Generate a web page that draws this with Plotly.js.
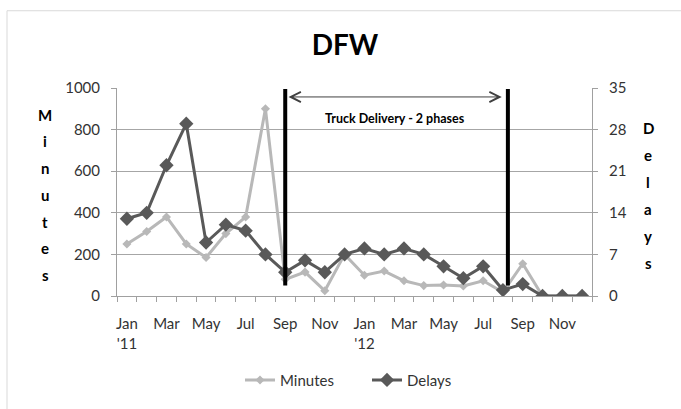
<!DOCTYPE html>
<html>
<head>
<meta charset="utf-8">
<script src="https://cdn.plot.ly/plotly-3.0.1.min.js"></script>
<style>html,body{margin:0;padding:0;background:#fff;}#chart{width:681px;height:409px;}</style>
</head>
<body>
<div id="chart"></div>
<script>
// ---- data ----
const months = ["Jan '11","Feb '11","Mar '11","Apr '11","May '11","Jun '11","Jul '11","Aug '11","Sep '11","Oct '11","Nov '11","Dec '11",
                "Jan '12","Feb '12","Mar '12","Apr '12","May '12","Jun '12","Jul '12","Aug '12","Sep '12","Oct '12","Nov '12","Dec '12"];
const tickLabels = ["Jan<br>'11","","Mar","","May","","Jul","","Sep","","Nov","",
                    "Jan<br>'12","","Mar","","May","","Jul","","Sep","","Nov",""];
const minutes = [250, 310, 380, 250, 185, 300, 380, 900, 80, 115, 25, 200,
                 100, 120, 73, 50, 53, 48, 73, 18, 155, 0, 0, 0];
const delays  = [13, 14, 22, 29, 9, 12, 11, 7, 4, 6, 4, 7,
                 8, 7, 8, 7, 5, 3, 5, 1, 2, 0, 0, 0];
const phaseLines = [8, 19.25];          // category index positions of the phase markers
const phaseLabel = "Truck Delivery - 2 phases";
const leftTitle = "Minutes";
const rightTitle = "Delays";

const FONT = "Lato, 'Open Sans', sans-serif";

const traces = [
  {name: "Minutes", x: months, y: minutes, type: "scatter", mode: "lines+markers",
   line: {color: "#b8b8b8", width: 3}, marker: {symbol: "diamond", size: 7, color: "#b8b8b8"}, yaxis: "y"},
  {name: "Delays", x: months, y: delays, type: "scatter", mode: "lines+markers",
   line: {color: "#595959", width: 3}, marker: {symbol: "diamond", size: 11, color: "#595959"}, yaxis: "y2"}
];

const shapes = phaseLines.map(p => ({type: "line", xref: "x", yref: "y", x0: p, x1: p, y0: 50, y1: 995,
  line: {color: "#000", width: 4}, layer: "above"}));
// outer chart-area border
shapes.push({type: "rect", xref: "paper", yref: "paper", x0: (7-117)/475, x1: 1.4, y0: -0.7, y1: (298-10)/210,
  line: {color: "#d9d9d9", width: 1}, layer: "below"});

const annotations = [
  {xref: "x", yref: "y", axref: "x", ayref: "y", x: 18.94, y: 957, ax: 8.09, ay: 957,
   showarrow: true, arrowhead: 5, startarrowhead: 5, arrowside: "end+start", arrowsize: 2, arrowwidth: 1,
   arrowcolor: "#404040", text: ""},
  {xref: "x", yref: "y", x: 13.55, y: 852, text: "<b>" + phaseLabel + "</b>", showarrow: false,
   xanchor: "center", yanchor: "middle", font: {family: FONT, size: 12.5, color: "#000"}}
];
leftTitle.split("").forEach((ch, i) => annotations.push({xref: "paper", yref: "paper",
  x: (45-117)/475, y: (298-115-27*i)/210, xanchor: "center", yanchor: "middle",
  text: "<b>" + ch + "</b>", showarrow: false,
  font: {family: FONT, size: 15, color: "#000"}}));
rightTitle.split("").forEach((ch, i) => annotations.push({xref: "paper", yref: "paper",
  x: (648-117)/475, y: (298-128-27.4*i)/210, xanchor: "center", yanchor: "middle",
  text: "<b>" + ch + "</b>", showarrow: false,
  font: {family: FONT, size: 15, color: "#000"}}));

const layout = {
  width: 681, height: 409,
  margin: {l: 117, r: 89, t: 88, b: 111, pad: 0},
  paper_bgcolor: "#fff", plot_bgcolor: "#fff",
  font: {family: FONT, size: 15, color: "#333"},
  title: {text: "<b>DFW</b>", font: {family: FONT, size: 28, color: "#000"},
          xref: "container", x: 345/681, xanchor: "center", yref: "container", y: 1-45/409, yanchor: "middle"},
  showlegend: true,
  legend: {orientation: "h", xref: "paper", yref: "paper", x: (240-117)/475, xanchor: "left",
           entrywidth: 82, entrywidthmode: "pixels",
           y: (298-383)/210, yanchor: "middle", font: {family: FONT, size: 15, color: "#333"}},
  xaxis: {type: "category", categoryorder: "array", categoryarray: months, range: [-0.5, 23.5],
          tickmode: "array", tickvals: months, ticktext: tickLabels, tickson: "boundaries",
          ticks: "outside", ticklen: 5, tickcolor: "#a0a0a0", showline: true, linecolor: "#a0a0a0",
          showgrid: false, zeroline: false, tickangle: 0, ticklabelstandoff: 14},
  yaxis: {range: [0, 1000], dtick: 200, tick0: 0, showgrid: true, gridcolor: "#a6a6a6", gridwidth: 1,
          showline: true, linecolor: "#a0a0a0", ticks: "outside", ticklen: 5, tickcolor: "#a0a0a0",
          zeroline: false, ticklabelstandoff: 8},
  yaxis2: {range: [0, 35], dtick: 7, tick0: 0, overlaying: "y", side: "right", showgrid: false,
           showline: true, linecolor: "#a0a0a0", ticks: "outside", ticklen: 5, tickcolor: "#a0a0a0",
           zeroline: false, ticklabelstandoff: 8},
  shapes: shapes,
  annotations: annotations
};

Plotly.newPlot("chart", traces, layout, {displayModeBar: false, staticPlot: true});
</script>
</body>
</html>
